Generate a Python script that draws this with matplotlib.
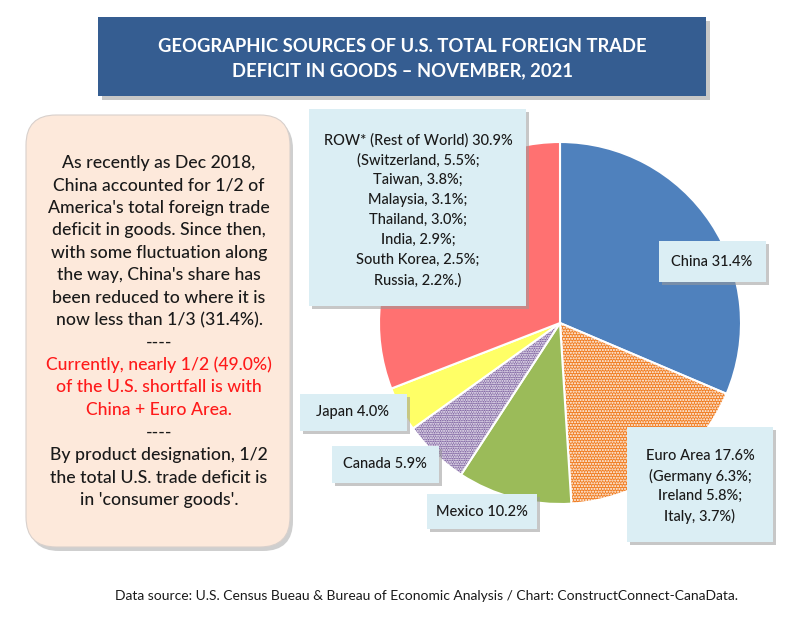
import matplotlib.pyplot as plt
from matplotlib.patches import Rectangle, FancyBboxPatch

plt.rcParams['font.family'] = ['Lato', 'DejaVu Sans']
plt.rcParams['hatch.color'] = 'white'
plt.rcParams['hatch.linewidth'] = 1.0

# pie data (clockwise from 12 o'clock)
regions = ['China', 'Euro Area', 'Mexico', 'Canada', 'Japan', 'ROW* (Rest of World)']
shares = [31.4, 17.6, 10.2, 5.9, 4.0, 30.9]
colors = ['#4F81BD', '#F07D22', '#9BBB59', '#8064A2', '#FFFF66', '#FF7171']
hatches = ['', '......', '', '.......', '', '']

euro_detail = ['Germany 6.3%', 'Ireland 5.8%', 'Italy, 3.7%']
row_detail = ['Switzerland, 5.5%', 'Taiwan, 3.8%', 'Malaysia, 3.1%', 'Thailand, 3.0%',
              'India, 2.9%', 'South Korea, 2.5%', 'Russia, 2.2%.']

title_lines = ['GEOGRAPHIC SOURCES OF U.S. TOTAL FOREIGN TRADE',
               'DEFICIT IN GOODS \u2013 NOVEMBER, 2021']
note_black1 = ['As recently as Dec 2018,', 'China accounted for 1/2 of',
               "America's total foreign trade", 'deficit in goods. Since then,',
               'with some fluctuation along', "the way, China's share has",
               'been reduced to where it is', 'now less than 1/3 (31.4%).', '----']
note_red = ['Currently, nearly 1/2 (49.0%)', 'of the U.S. shortfall is with',
            'China + Euro Area.']
note_black2 = ['----', 'By product designation, 1/2', 'the total U.S. trade deficit is',
               "in 'consumer goods'."]
source = 'Data source: U.S. Census Bueau & Bureau of Economic Analysis / Chart: ConstructConnect-CanaData.'

fig = plt.figure(figsize=(8, 6.26), dpi=100)
ax = fig.add_axes([0, 0, 1, 1])


def shadow_box(x0, y0, x1, y1, fc, z=3, off=3):
    ax.add_patch(Rectangle((x0 + off, y0 + off), x1 - x0, y1 - y0, fc='#9a9a9a',
                           ec='none', alpha=0.55, zorder=z - 0.1))
    ax.add_patch(Rectangle((x0, y0), x1 - x0, y1 - y0, fc=fc, ec='none', zorder=z))


def lines_text(lines, x, y0, step, **kw):
    for i, s in enumerate(lines):
        ax.text(x, y0 + i * step, s, ha='center', va='center', zorder=6, **kw)


# pie (y axis inverted, so counterclock=True draws clockwise on screen)
wedges, _ = ax.pie(shares, colors=colors, hatch=hatches, startangle=-90, counterclock=True,
                   center=(560, 323), radius=181,
                   wedgeprops=dict(edgecolor='white', linewidth=1.5))

ax.set_xlim(0, 800)
ax.set_ylim(626, 0)
ax.set_aspect('auto')
ax.axis('off')

# title
shadow_box(98, 17, 706, 96, '#355D91', off=4)
lines_text(title_lines, 402, 46, 25, color='white', fontsize=13.2, fontweight='bold')

# left note
ax.add_patch(FancyBboxPatch((29, 119), 264, 432, boxstyle='round,pad=0,rounding_size=30',
                            fc='#a0a0a0', ec='none', alpha=0.5, zorder=2))
ax.add_patch(FancyBboxPatch((26, 115), 264, 432, boxstyle='round,pad=0,rounding_size=30',
                            fc='#FDE9DB', ec='#d8d0cc', lw=0.8, zorder=2.1))
nkw = dict(fontsize=12.7, fontweight='medium')
lines_text(note_black1, 159, 163, 22.45, color='#1a1a1a', **nkw)
lines_text(note_red, 159, 365, 22.45, color='#FF1A1A', **nkw)
lines_text(note_black2, 159, 433, 22.45, color='#1a1a1a', **nkw)

# data labels
lab = '#DBEEF4'
kw = dict(color='#1a1a1a', fontsize=10.5, fontweight='medium')
pct = ['%s %.1f%%' % (r, s) for r, s in zip(regions, shares)]

shadow_box(309, 109, 526, 306, lab)
lines_text([pct[5], '(' + row_detail[0] + ';'] + [d + ';' for d in row_detail[1:-1]]
           + [row_detail[-1] + ')'], 418, 140, 20, **kw)

shadow_box(659, 241, 766, 282, lab)
lines_text([pct[0]], 712, 262, 20, **kw)

shadow_box(627, 427, 773, 542, lab)
lines_text([pct[1], '(' + euro_detail[0] + ';', euro_detail[1] + ';', euro_detail[2] + ')'],
           700, 456, 20, **kw)

shadow_box(427, 494, 537, 529, lab)
lines_text([pct[2]], 482, 512, 20, **kw)

shadow_box(332, 446, 439, 483, lab)
lines_text([pct[3]], 385, 464, 20, **kw)

shadow_box(300, 394, 407, 431, lab)
lines_text([pct[4]], 353, 412, 20, **kw)

# source
ax.text(115, 596, source, ha='left', va='center', fontsize=10.0, color='#1a1a1a')

fig.savefig('out.png', dpi=100)
